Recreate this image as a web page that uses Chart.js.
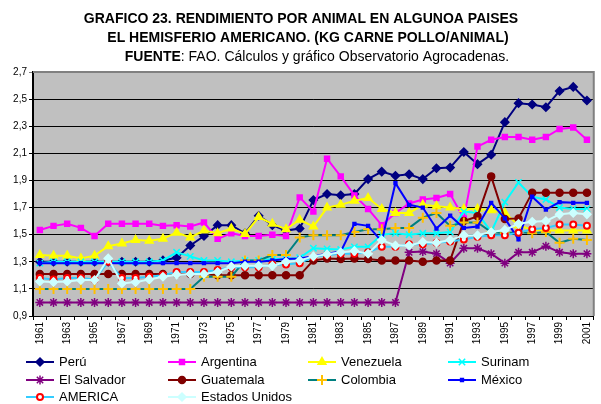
<!DOCTYPE html>
<html>
<head>
<meta charset="utf-8">
<script src="https://cdn.jsdelivr.net/npm/chart.js@4/dist/chart.umd.min.js"></script>
<style>
  html, body { margin: 0; padding: 0; background: #fff; }
  canvas { display: block; }
</style>
</head>
<body>
<canvas id="chart" width="601" height="404"></canvas>
<script>
const years = ['1961','1962','1963','1964','1965','1966','1967','1968','1969','1970',
  '1971','1972','1973','1974','1975','1976','1977','1978','1979','1980',
  '1981','1982','1983','1984','1985','1986','1987','1988','1989','1990',
  '1991','1992','1993','1994','1995','1996','1997','1998','1999','2000','2001'];

const peru = [1.30,1.30,1.30,1.30,1.30,1.30,1.30,1.30,1.30,1.31,
  1.33,1.42,1.49,1.57,1.57,1.51,1.64,1.57,1.53,1.545,
  1.755,1.80,1.79,1.80,1.91,1.965,1.935,1.945,1.91,1.99,
  1.995,2.11,2.02,2.09,2.33,2.47,2.46,2.44,2.56,2.59,2.49];
const argentina = [1.535,1.565,1.58,1.55,1.49,1.58,1.58,1.58,1.58,1.565,
  1.57,1.56,1.59,1.47,1.51,1.49,1.49,1.50,1.49,1.775,
  1.67,2.06,1.93,1.79,1.69,1.57,1.66,1.73,1.76,1.77,
  1.80,1.62,2.15,2.20,2.22,2.22,2.20,2.22,2.28,2.29,2.20];
const venezuela = [1.35,1.345,1.345,1.325,1.345,1.415,1.435,1.46,1.455,1.47,
  1.515,1.48,1.53,1.51,1.545,1.505,1.63,1.58,1.54,1.61,
  1.56,1.70,1.72,1.75,1.77,1.69,1.66,1.66,1.72,1.71,
  1.70,1.69,1.69,1.68,1.66,1.57,1.535,1.53,1.53,1.53,1.53];
const surinam = [1.29,1.30,1.30,1.30,1.30,1.30,1.30,1.30,1.30,1.31,
  1.37,1.34,1.31,1.31,1.30,1.31,1.31,1.32,1.32,1.33,
  1.40,1.395,1.39,1.41,1.41,1.50,1.51,1.50,1.51,1.51,
  1.52,1.67,1.66,1.52,1.74,1.885,1.78,1.76,1.70,1.69,1.69];
const elSalvador = [1.00,1.00,1.00,1.00,1.00,1.00,1.00,1.00,1.00,1.00,
  1.00,1.00,1.00,1.00,1.00,1.00,1.00,1.00,1.00,1.00,
  1.00,1.00,1.00,1.00,1.00,1.00,1.00,1.37,1.375,1.36,
  1.29,1.40,1.40,1.36,1.29,1.37,1.37,1.415,1.37,1.36,1.36];
const guatemala = [1.21,1.21,1.21,1.21,1.21,1.21,1.21,1.21,1.21,1.21,
  1.21,1.21,1.21,1.20,1.20,1.20,1.20,1.20,1.20,1.20,
  1.31,1.325,1.32,1.325,1.32,1.31,1.31,1.31,1.30,1.31,
  1.31,1.60,1.635,1.93,1.615,1.62,1.81,1.81,1.81,1.81,1.81];
const colombia = [1.10,1.10,1.10,1.10,1.10,1.10,1.10,1.10,1.10,1.10,
  1.10,1.10,1.19,1.19,1.19,1.31,1.31,1.35,1.35,1.48,
  1.495,1.495,1.495,1.52,1.54,1.54,1.55,1.55,1.625,1.66,
  1.565,1.59,1.59,1.52,1.51,1.52,1.51,1.52,1.44,1.47,1.46];
const mexico = [1.29,1.29,1.29,1.29,1.29,1.29,1.29,1.29,1.29,1.29,
  1.29,1.29,1.29,1.29,1.29,1.30,1.30,1.31,1.32,1.325,
  1.34,1.36,1.375,1.58,1.565,1.45,1.88,1.72,1.70,1.545,
  1.64,1.55,1.56,1.735,1.62,1.465,1.78,1.685,1.74,1.735,1.735];
const america = [1.18,1.17,1.18,1.18,1.17,1.30,1.18,1.18,1.19,1.20,
  1.225,1.225,1.225,1.24,1.26,1.26,1.26,1.28,1.28,1.29,
  1.335,1.35,1.36,1.36,1.37,1.41,1.41,1.43,1.43,1.44,
  1.45,1.465,1.485,1.495,1.495,1.515,1.54,1.55,1.575,1.575,1.565];
const usa = [1.155,1.15,1.155,1.165,1.165,1.325,1.14,1.15,1.17,1.19,
  1.205,1.21,1.21,1.225,1.265,1.27,1.27,1.27,1.30,1.31,
  1.34,1.355,1.37,1.38,1.36,1.46,1.42,1.42,1.445,1.44,
  1.46,1.495,1.495,1.52,1.535,1.58,1.595,1.60,1.65,1.66,1.65];

const FONT = "'Liberation Sans', Arial, sans-serif";

function series(label, data, line, style, fill, stroke, radius) {
  return {
    label, data,
    borderColor: line,
    borderWidth: 2,
    pointStyle: style,
    pointBackgroundColor: fill,
    pointBorderColor: stroke,
    pointBorderWidth: 1.5,
    pointRadius: radius,
    tension: 0
  };
}

const datasets = [
  series('Perú', peru, '#000080', 'rectRot', '#000080', '#000080', 4),
  series('Argentina', argentina, '#ff00ff', 'rect', '#ff00ff', '#ff00ff', 3.5),
  series('Venezuela', venezuela, '#ffff00', 'triangle', '#ffff00', '#ffff00', 4.5),
  series('Surinam', surinam, '#00ffff', 'crossRot', '#00ffff', '#00ffff', 4.5),
  series('El Salvador', elSalvador, '#800080', 'star', '#800080', '#800080', 4.5),
  series('Guatemala', guatemala, '#800000', 'circle', '#800000', '#800000', 3.5),
  series('Colombia', colombia, '#008080', 'cross', '#ffc000', '#ffc000', 5),
  series('México', mexico, '#0000ff', 'rect', '#0000ff', '#0000ff', 2),
  series('AMERICA', america, '#33ccff', 'circle', '#ffffff', '#ff0000', 3),
  series('Estados Unidos', usa, '#ccffff', 'rectRot', '#ccffff', '#ccffff', 4)
];
// later series drawn on top, like the original
datasets.forEach((d, i) => { d.order = -i; });
datasets[6].pointBorderWidth = 2;
datasets[8].pointBorderWidth = 2;

const plotDeco = {
  id: 'plotDeco',
  beforeDraw(chart) {
    const { ctx, chartArea: a } = chart;
    ctx.save();
    ctx.fillStyle = '#fff';
    ctx.fillRect(0, 0, chart.width, chart.height);
    ctx.fillStyle = '#c0c0c0';
    ctx.fillRect(a.left, a.top, a.right - a.left, a.bottom - a.top);
    ctx.restore();
  },
  beforeDatasetsDraw(chart) {
    const { ctx, chartArea: a } = chart;
    ctx.save();
    ctx.strokeStyle = '#808080';
    ctx.lineWidth = 2;
    ctx.beginPath();
    ctx.moveTo(a.left, a.top);
    ctx.lineTo(a.right, a.top);
    ctx.lineTo(a.right, a.bottom);
    ctx.stroke();
    ctx.restore();
  },
  afterDraw(chart) {
    const ctx = chart.ctx;
    ctx.save();
    ctx.fillStyle = '#000';
    ctx.textBaseline = 'middle';
    ctx.textAlign = 'center';
    ctx.font = 'bold 14px ' + FONT;
    ctx.fillText('GRAFICO 23. RENDIMIENTO POR ANIMAL EN ALGUNOA PAISES', 301, 19);
    ctx.fillText('EL HEMISFERIO AMERICANO. (KG CARNE POLLO/ANIMAL)', 308, 38);
    // third line: bold lead word then normal text
    const b = 'FUENTE';
    const n = ': FAO. Cálculos y gráfico Observatorio Agrocadenas.';
    ctx.font = 'bold 14px ' + FONT;
    const wb = ctx.measureText(b).width;
    ctx.font = '14px ' + FONT;
    const wn = ctx.measureText(n).width;
    let x = 317 - (wb + wn) / 2;
    ctx.textAlign = 'left';
    ctx.font = 'bold 14px ' + FONT;
    ctx.fillText(b, x, 57);
    ctx.font = '14px ' + FONT;
    ctx.fillText(n, x + wb, 57);

    // legend in a 4 column grid
    const cols = [26, 168, 308, 448];
    const rows = [362, 380, 397];
    chart.data.datasets.forEach((d, i) => {
      const x0 = cols[i % 4];
      const y = rows[Math.floor(i / 4)];
      ctx.strokeStyle = d.borderColor;
      ctx.lineWidth = 2;
      ctx.beginPath();
      ctx.moveTo(x0, y);
      ctx.lineTo(x0 + 28, y);
      ctx.stroke();
      ctx.fillStyle = d.pointBackgroundColor;
      ctx.strokeStyle = d.pointBorderColor;
      ctx.lineWidth = d.pointBorderWidth;
      Chart.helpers.drawPoint(ctx, {
        pointStyle: d.pointStyle, radius: d.pointRadius,
        borderWidth: d.pointBorderWidth, rotation: 0
      }, x0 + 14, y);
      ctx.fillStyle = '#000';
      ctx.font = '13px ' + FONT;
      ctx.textAlign = 'left';
      ctx.fillText(d.label, x0 + 33, y);
    });
    ctx.restore();
  }
};

new Chart(document.getElementById('chart'), {
  type: 'line',
  data: { labels: years, datasets },
  options: {
    responsive: false,
    animation: false,
    devicePixelRatio: 1,
    layout: { padding: { top: 72, left: 0, right: 2, bottom: 0 } },
    plugins: {
      legend: { display: false },
      title: { display: false },
      tooltip: { enabled: false }
    },
    scales: {
      x: {
        offset: true,
        grid: { offset: true, drawOnChartArea: false, color: '#000', tickLength: 4 },
        border: { color: '#000', width: 1 },
        ticks: {
          autoSkip: false,
          maxRotation: 90,
          minRotation: 90,
          padding: 2,
          color: '#000',
          font: { family: FONT, size: 10 },
          callback: (v, i) => (i % 2 === 0 ? years[i] : '')
        },
        afterFit: s => { s.height = 88; }
      },
      y: {
        min: 0.9,
        max: 2.7,
        grid: {
          color: c => (c.tick && c.tick.value > 2.69 ? '#808080' : '#000'),
          lineWidth: 1,
          tickLength: 4
        },
        border: { color: '#000', width: 2 },
        ticks: {
          stepSize: 0.2,
          padding: 2,
          color: '#000',
          font: { family: FONT, size: 10 },
          callback: v => v.toFixed(1).replace('.', ',')
        },
        afterFit: s => { s.width = 33; }
      }
    }
  },
  plugins: [plotDeco]
});
</script>
</body>
</html>
